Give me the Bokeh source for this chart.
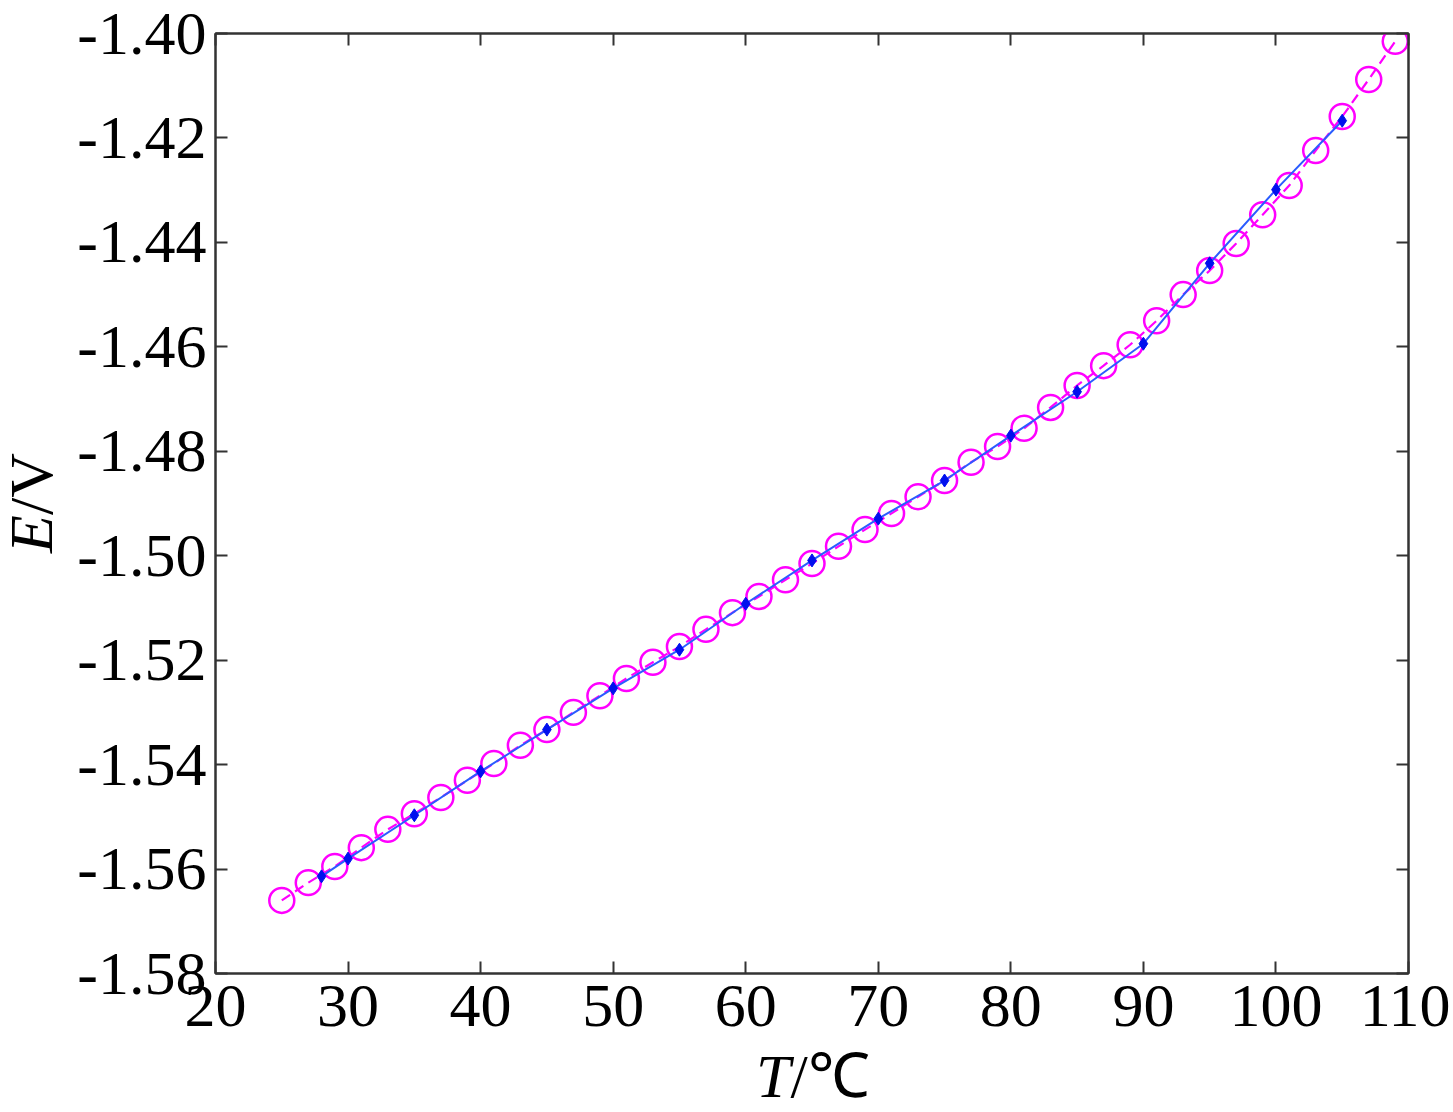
from bokeh.plotting import figure
from bokeh.models import Range1d, LinearAxis, FixedTicker, PrintfTickFormatter, Div
from bokeh.layouts import row, column
from bokeh.embed import file_html
from bokeh.resources import INLINE

# magenta series (circles, dashed)
T_fit = [25, 27, 29, 31, 33, 35, 37, 39, 41, 43, 45, 47, 49, 51, 53, 55, 57, 59, 61, 63,
         65, 67, 69, 71, 73, 75, 77, 79, 81, 83, 85, 87, 89, 91, 93, 95, 97, 99, 101, 103,
         105, 107, 109]
E_fit = [-1.5660, -1.5626, -1.5595, -1.5559, -1.5524, -1.5494, -1.5463, -1.5430, -1.5398,
         -1.5363, -1.5333, -1.5300, -1.5268, -1.5235, -1.5204, -1.5174, -1.5141, -1.5109,
         -1.5078, -1.5046, -1.5015, -1.4982, -1.4950, -1.4919, -1.4887, -1.4856, -1.4821,
         -1.4791, -1.4756, -1.4716, -1.4674, -1.4636, -1.4596, -1.4550, -1.4500, -1.4454,
         -1.4402, -1.4347, -1.4291, -1.4224, -1.4159, -1.4088, -1.4015]

# blue series (small diamonds, solid)
T_meas = [28, 30, 35, 40, 45, 50, 55, 60, 65, 70, 75, 80, 85, 90, 95, 100, 105]
E_meas = [-1.5614, -1.5580, -1.5497, -1.5413, -1.5333, -1.5254, -1.5180, -1.5092, -1.5009,
          -1.4929, -1.4856, -1.4770, -1.4686, -1.4594, -1.4440, -1.4299, -1.4167]

x_ticks = [20, 30, 40, 50, 60, 70, 80, 90, 100, 110]
y_ticks = [-1.58, -1.56, -1.54, -1.52, -1.50, -1.48, -1.46, -1.44, -1.42, -1.40]

FONT = "Liberation Serif"
FS = "62px"
AX = "#333333"

YDIV_W = 64
P_W, P_H = 1386, 1058

p = figure(width=P_W, height=P_H, output_backend="svg", toolbar_location=None,
           x_range=Range1d(20, 110), y_range=Range1d(-1.58, -1.40),
           min_border_left=151, min_border_right=42, min_border_top=33, min_border_bottom=85,
           x_axis_location=None, y_axis_location=None, margin=0)
p.grid.visible = False
p.background_fill_color = "white"
p.border_fill_color = "white"
p.outline_line_color = AX
p.outline_line_width = 2

def style(ax, ticks, labels=True, fmt=None, standoff=8):
    ax.ticker = FixedTicker(ticks=ticks)
    ax.minor_tick_line_color = None
    ax.major_tick_in = 12
    ax.major_tick_out = 0
    ax.major_tick_line_color = AX
    ax.major_tick_line_width = 2
    ax.axis_line_color = AX
    ax.axis_line_width = 2
    if labels:
        ax.major_label_text_font = FONT
        ax.major_label_text_font_size = FS
        ax.major_label_text_color = "black"
        ax.major_label_standoff = standoff
        if fmt:
            ax.formatter = PrintfTickFormatter(format=fmt)
    else:
        ax.major_label_text_font_size = "0px"
        ax.major_label_text_alpha = 0
        ax.major_label_standoff = 0

xb = LinearAxis(); style(xb, x_ticks, standoff=12); p.add_layout(xb, "below")
yl = LinearAxis(); style(yl, y_ticks, fmt="%.2f", standoff=9); p.add_layout(yl, "left")
xt = LinearAxis(); style(xt, x_ticks, labels=False); p.add_layout(xt, "above")
yr = LinearAxis(); style(yr, y_ticks, labels=False); p.add_layout(yr, "right")

# magenta dashed line + circles
p.line(T_fit, E_fit, line_color="#ff00ff", line_width=2.2, line_dash="10 6")
p.scatter(T_fit, E_fit, marker="circle", size=25, fill_color=None,
          line_color="#ff00ff", line_width=2.5)
# blue solid line + diamonds
p.line(T_meas, E_meas, line_color="#2a5cff", line_width=2)
p.scatter(T_meas, E_meas, marker="diamond", size=13, fill_color="#0010ee",
          line_color="#0010ee")

# axis titles (italic quantity symbol + upright unit)
txt_style = ("font-family:'Liberation Serif',serif; font-size:62px; line-height:62px; "
             "white-space:nowrap; color:black;")
ydiv = Div(width=YDIV_W, height=P_H, margin=0,
           text=('<div style="display:inline-block; position:relative; left:0px; top:453px; '
                 'writing-mode:vertical-rl; transform:rotate(180deg); ' + txt_style + '">'
                 '<i>E</i>/V</div>'))
xdiv = Div(width=YDIV_W + P_W, height=50, margin=0,
           text=('<div style="display:inline-block; position:relative; left:756px; top:-13px; '
                 + txt_style + '"><i>T</i>/℃</div>'))

layout = column(row(ydiv, p, spacing=0, margin=0), xdiv, spacing=0, margin=0)

open("out.html", "w").write(file_html(layout, INLINE))
